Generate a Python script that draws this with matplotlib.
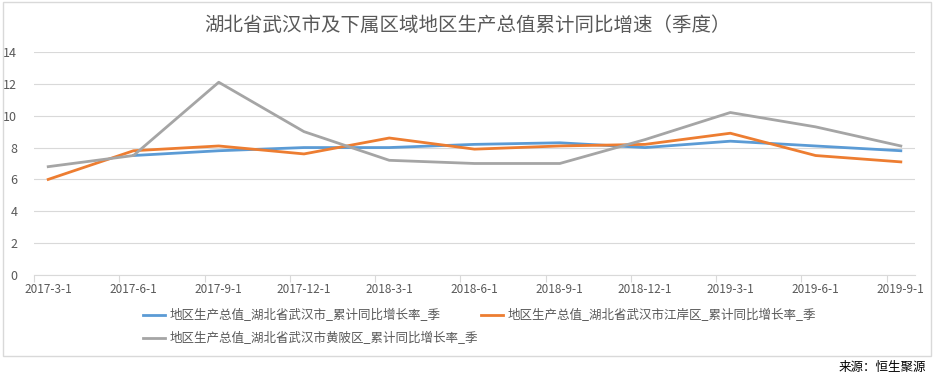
import matplotlib
matplotlib.use('Agg')
import matplotlib.pyplot as plt
from matplotlib.patches import Rectangle

plt.rcParams['font.family'] = ['Noto Sans CJK SC', 'DejaVu Sans']

# data
dates = ['2017-3-1', '2017-6-1', '2017-9-1', '2017-12-1', '2018-3-1', '2018-6-1',
         '2018-9-1', '2018-12-1', '2019-3-1', '2019-6-1', '2019-9-1']
wuhan = [None, 7.5, 7.8, 8.0, 8.0, 8.2, 8.3, 8.0, 8.4, 8.1, 7.8]
jiangan = [6.0, 7.8, 8.1, 7.6, 8.6, 7.9, 8.1, 8.2, 8.9, 7.5, 7.1]
huangpi = [6.8, 7.5, 12.1, 9.0, 7.2, 7.0, 7.0, 8.5, 10.2, 9.3, 8.1]

names = ['地区生产总值_湖北省武汉市_累计同比增长率_季',
         '地区生产总值_湖北省武汉市江岸区_累计同比增长率_季',
         '地区生产总值_湖北省武汉市黄陂区_累计同比增长率_季']
colors = ['#5b9bd5', '#ed7d31', '#a5a5a5']

# date axis in months: each point sits in the middle of its month
xs = [3 * i + 0.5 for i in range(len(dates))]

fig = plt.figure(figsize=(9.34, 3.84), dpi=100)
ax = fig.add_axes([0.0364, 0.2839, 0.9433, 0.5807])

lines = []
for vals, name, c in zip([wuhan, jiangan, huangpi], names, colors):
    px = [x for x, v in zip(xs, vals) if v is not None]
    py = [v for v in vals if v is not None]
    ln, = ax.plot(px, py, color=c, lw=2, label=name, solid_joinstyle='round')
    lines.append(ln)

ax.set_ylim(0, 14)
ax.set_yticks(range(0, 15, 2))
ax.set_xlim(0, 3 * len(dates) - 2)
ax.set_xticks([3 * i for i in range(len(dates))])
ax.set_xticklabels([])
ax.set_xticks(xs, minor=True)
ax.set_xticklabels(dates, minor=True)
ax.tick_params(axis='x', which='major', length=5, color='#d9d9d9', width=0.8)
ax.tick_params(axis='x', which='minor', length=0, pad=6, labelsize=8.5, labelcolor='#595959')
ax.tick_params(axis='y', length=0, pad=12, labelsize=9, labelcolor='#595959')
ax.grid(axis='y', color='#d9d9d9', lw=0.8)
ax.set_axisbelow(True)
for s in ['top', 'right', 'left']:
    ax.spines[s].set_visible(False)
ax.spines['bottom'].set_color('#d9d9d9')
ax.spines['bottom'].set_linewidth(0.8)

fig.text(0.5, 0.935, '湖北省武汉市及下属区域地区生产总值累计同比增速（季度）',
         ha='center', va='center', fontsize=14, color='#595959')

# legend fills column by column, so reorder to get rows: 1 2 / 3
order = [0, 2, 1]
fig.legend([lines[i] for i in order], [names[i] for i in order],
           loc='upper left', bbox_to_anchor=(0.153, 0.196), ncol=2, frameon=False,
           fontsize=9, handlelength=1.8, handletextpad=0.35, columnspacing=0.2,
           labelspacing=0.8, borderaxespad=0, borderpad=0, labelcolor='#595959')

fig.patches.append(Rectangle((3 / 934, 1 - 356 / 384), 928 / 934, 354 / 384,
                             transform=fig.transFigure, fill=False,
                             edgecolor='#d9d9d9', lw=1))
fig.text(0.991, 0.042, '来源：恒生聚源', ha='right', va='center', fontsize=9, color='black')

fig.savefig('out.png', dpi=100)
